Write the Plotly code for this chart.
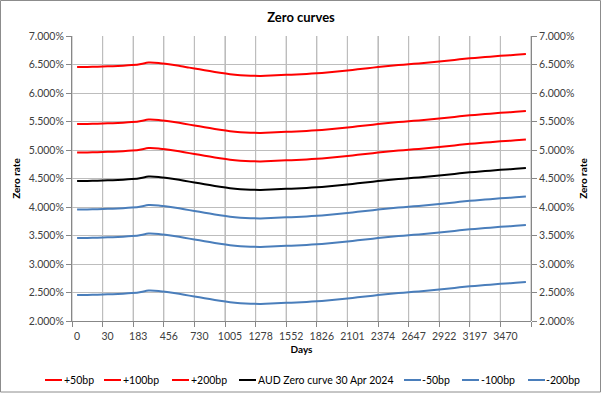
import plotly.graph_objects as go

# ---------------- data ----------------
days = [0, 1, 7, 30, 61, 91, 183, 274, 365, 456, 547, 638, 730, 821, 913, 1005,
        1096, 1187, 1278, 1369, 1461, 1552, 1643, 1734, 1826, 1917, 2008, 2101,
        2192, 2283, 2374, 2465, 2556, 2647, 2738, 2830, 2922, 3013, 3105, 3197,
        3288, 3379, 3470, 3561, 3652]

x_tick_labels = ["0", "30", "183", "456", "730", "1005", "1278", "1552", "1826",
                 "2101", "2374", "2647", "2922", "3197", "3470"]

plus_50bp = [4.955, 4.957, 4.962, 4.968, 4.975, 4.985, 5.000, 5.035, 5.028, 5.005, 4.978, 4.945,
             4.915, 4.885, 4.855, 4.830, 4.813, 4.803, 4.800, 4.805, 4.815, 4.822, 4.830, 4.840,
             4.852, 4.867, 4.885, 4.905, 4.925, 4.945, 4.965, 4.982, 4.997, 5.012, 5.027, 5.045,
             5.063, 5.080, 5.100, 5.115, 5.130, 5.145, 5.158, 5.170, 5.185]
plus_100bp = [5.455, 5.457, 5.462, 5.468, 5.475, 5.485, 5.500, 5.535, 5.528, 5.505, 5.478, 5.445,
              5.415, 5.385, 5.355, 5.330, 5.313, 5.303, 5.300, 5.305, 5.315, 5.322, 5.330, 5.340,
              5.352, 5.367, 5.385, 5.405, 5.425, 5.445, 5.465, 5.482, 5.497, 5.512, 5.527, 5.545,
              5.563, 5.580, 5.600, 5.615, 5.630, 5.645, 5.658, 5.670, 5.685]
plus_200bp = [6.455, 6.457, 6.462, 6.468, 6.475, 6.485, 6.500, 6.535, 6.528, 6.505, 6.478, 6.445,
              6.415, 6.385, 6.355, 6.330, 6.313, 6.303, 6.300, 6.305, 6.315, 6.322, 6.330, 6.340,
              6.352, 6.367, 6.385, 6.405, 6.425, 6.445, 6.465, 6.482, 6.497, 6.512, 6.527, 6.545,
              6.563, 6.580, 6.600, 6.615, 6.630, 6.645, 6.658, 6.670, 6.685]
aud_zero = [4.455, 4.457, 4.462, 4.468, 4.475, 4.485, 4.500, 4.535, 4.528, 4.505, 4.478, 4.445,
            4.415, 4.385, 4.355, 4.330, 4.313, 4.303, 4.300, 4.305, 4.315, 4.322, 4.330, 4.340,
            4.352, 4.367, 4.385, 4.405, 4.425, 4.445, 4.465, 4.482, 4.497, 4.512, 4.527, 4.545,
            4.563, 4.580, 4.600, 4.615, 4.630, 4.645, 4.658, 4.670, 4.685]
minus_50bp = [3.955, 3.957, 3.962, 3.968, 3.975, 3.985, 4.000, 4.035, 4.028, 4.005, 3.978, 3.945,
              3.915, 3.885, 3.855, 3.830, 3.813, 3.803, 3.800, 3.805, 3.815, 3.822, 3.830, 3.840,
              3.852, 3.867, 3.885, 3.905, 3.925, 3.945, 3.965, 3.982, 3.997, 4.012, 4.027, 4.045,
              4.063, 4.080, 4.100, 4.115, 4.130, 4.145, 4.158, 4.170, 4.185]
minus_100bp = [3.455, 3.457, 3.462, 3.468, 3.475, 3.485, 3.500, 3.535, 3.528, 3.505, 3.478, 3.445,
               3.415, 3.385, 3.355, 3.330, 3.313, 3.303, 3.300, 3.305, 3.315, 3.322, 3.330, 3.340,
               3.352, 3.367, 3.385, 3.405, 3.425, 3.445, 3.465, 3.482, 3.497, 3.512, 3.527, 3.545,
               3.563, 3.580, 3.600, 3.615, 3.630, 3.645, 3.658, 3.670, 3.685]
minus_200bp = [2.455, 2.457, 2.462, 2.468, 2.475, 2.485, 2.500, 2.535, 2.528, 2.505, 2.478, 2.445,
               2.415, 2.385, 2.355, 2.330, 2.313, 2.303, 2.300, 2.305, 2.315, 2.322, 2.330, 2.340,
               2.352, 2.367, 2.385, 2.405, 2.425, 2.445, 2.465, 2.482, 2.497, 2.512, 2.527, 2.545,
               2.563, 2.580, 2.600, 2.615, 2.630, 2.645, 2.658, 2.670, 2.685]

series_names = ["+50bp", "+100bp", "+200bp", "AUD Zero curve 30 Apr 2024",
                "-50bp", "-100bp", "-200bp"]
series_values = [plus_50bp, plus_100bp, plus_200bp, aud_zero,
                 minus_50bp, minus_100bp, minus_200bp]

# ---------------- styling ----------------
RED = "#FF0000"
BLACK = "#000000"
BLUE = "#4A7EBB"
series_colors = [RED, RED, RED, BLACK, BLUE, BLUE, BLUE]
# the AUD curve is plotted against the secondary (right-hand) axes
series_axes = [("x", "y"), ("x", "y"), ("x", "y"), ("x2", "y2"),
               ("x", "y"), ("x", "y"), ("x", "y")]

W, H = 602, 393
ML, MR, MT, MB = 72, 71, 36, 72
PW, PH = W - ML - MR, H - MT - MB
FONT = "Lato, 'Open Sans', sans-serif"
GRID = "#BDBDBD"
AXIS = "#878787"
TICKTXT = "#404040"
TICK_LEN = 5
Y_RANGE = [2, 7]


def px_x(px):
    return (px - ML) / PW


def px_y(py):
    return 1 - (py - MT) / PH


x_pos = list(range(len(days)))
label_step = 3
x_range = [-0.5, len(days) - 0.5]
# ticks / vertical grid sit on category boundaries; labels centred on the category
grid_pos = [x_range[0] + k * label_step for k in range(len(days) // label_step + 1)]
grid_text = x_tick_labels + [""] * (len(grid_pos) - len(x_tick_labels))
half_category_px = int(round(PW / len(days) / 2))

fig = go.Figure()

# vertical category-boundary gridlines (drawn on the x / y scales, beneath the curves)
grid_x, grid_y = [], []
for g in grid_pos:
    grid_x += [g, g, None]
    grid_y += [Y_RANGE[0], Y_RANGE[1], None]
fig.add_trace(go.Scatter(x=grid_x, y=grid_y, mode="lines", hoverinfo="skip",
                         line=dict(color=GRID, width=1.2), showlegend=False))

# outside tick marks under the category axis
y_per_px = (Y_RANGE[1] - Y_RANGE[0]) / PH
fig.add_trace(go.Scatter(
    x=grid_pos, y=[Y_RANGE[0] - y_per_px * TICK_LEN / 2] * len(grid_pos),
    mode="markers", hoverinfo="skip", cliponaxis=False, showlegend=False,
    marker=dict(symbol="line-ns", size=TICK_LEN, line=dict(color=AXIS, width=1)),
))

for name, vals, col, (xa, ya) in zip(series_names, series_values, series_colors, series_axes):
    fig.add_trace(go.Scatter(
        x=x_pos, y=vals, name=name, mode="lines", xaxis=xa, yaxis=ya,
        line=dict(color=col, width=2, shape="spline", smoothing=0.5),
        customdata=days,
        hovertemplate="Days %{customdata}<br>%{y:.3f}%<extra>" + name + "</extra>",
        showlegend=False,
    ))

shapes = []
annotations = []

# legend (one row, like the source)
legend_swatch = [(45, 62), (104, 121), (172, 189), (239, 256), (404, 421), (462, 479), (528, 545)]
legend_text_x = [62, 121, 189, 256, 420, 479, 544]
LEG_Y = 380

for (s0, s1), tx, name, col in zip(legend_swatch, legend_text_x, series_names, series_colors):
    shapes.append(dict(type="line", xref="paper", yref="paper",
                       x0=px_x(s0), x1=px_x(s1), y0=px_y(LEG_Y), y1=px_y(LEG_Y),
                       line=dict(color=col, width=2)))
    annotations.append(dict(text=name, xref="paper", yref="paper",
                            x=px_x(tx), y=px_y(LEG_Y), xanchor="left", yanchor="middle",
                            showarrow=False, font=dict(family=FONT, size=10.5, color="#000000")))

# chart border
shapes.append(dict(type="rect", xref="paper", yref="paper", layer="below",
                   x0=px_x(0.5), x1=px_x(600.5), y0=px_y(392), y1=px_y(0.5),
                   line=dict(color="#8C8C8C", width=1)))

yaxis_common = dict(
    range=Y_RANGE, tick0=Y_RANGE[0], dtick=0.5, tickformat=".3f", ticksuffix="%",
    showline=True, linecolor=AXIS, linewidth=1,
    ticks="outside", ticklen=TICK_LEN, tickcolor=AXIS,
    tickfont=dict(family=FONT, size=10.5, color=TICKTXT),
    title=dict(text="<b>Zero rate</b>", font=dict(family=FONT, size=10, color="#000000"), standoff=6),
    zeroline=False, automargin=False, fixedrange=True,
)

fig.update_layout(
    width=W, height=H,
    margin=dict(l=ML, r=MR, t=MT, b=MB, autoexpand=False),
    paper_bgcolor="white", plot_bgcolor="rgba(0,0,0,0)",
    font=dict(family=FONT, color="#000000"),
    title=dict(text="<b>Zero curves</b>", x=0.5, xanchor="center",
               y=1 - 17 / H, yanchor="middle", yref="container",
               font=dict(family=FONT, size=13, color="#000000")),
    xaxis=dict(
        range=x_range, tickmode="array", tickvals=grid_pos, ticktext=grid_text,
        ticklabelshift=half_category_px,
        ticks="outside", ticklen=TICK_LEN, tickcolor=AXIS,
        showgrid=True, gridcolor=GRID, gridwidth=1, zeroline=False,
        showline=True, linecolor=AXIS, linewidth=1,
        tickfont=dict(family=FONT, size=10.5, color=TICKTXT),
        title=dict(text="<b>Days</b>", font=dict(family=FONT, size=10, color="#000000"), standoff=5),
        automargin=False, fixedrange=True,
    ),
    # secondary axes share the same plot area (stacked subplot)
    xaxis2=dict(range=x_range, domain=[0, 1], anchor="y2", visible=False, fixedrange=True),
    yaxis=dict(**yaxis_common, showgrid=True, gridcolor=GRID, gridwidth=1, side="left"),
    yaxis2=dict(**yaxis_common, showgrid=False, side="right", anchor="x2", domain=[0, 1]),
    shapes=shapes,
    annotations=annotations,
    showlegend=False,
)

fig.write_html("out.html", config={"displayModeBar": False},
               post_script="document.body.style.margin='0';document.body.style.overflow='hidden';")
